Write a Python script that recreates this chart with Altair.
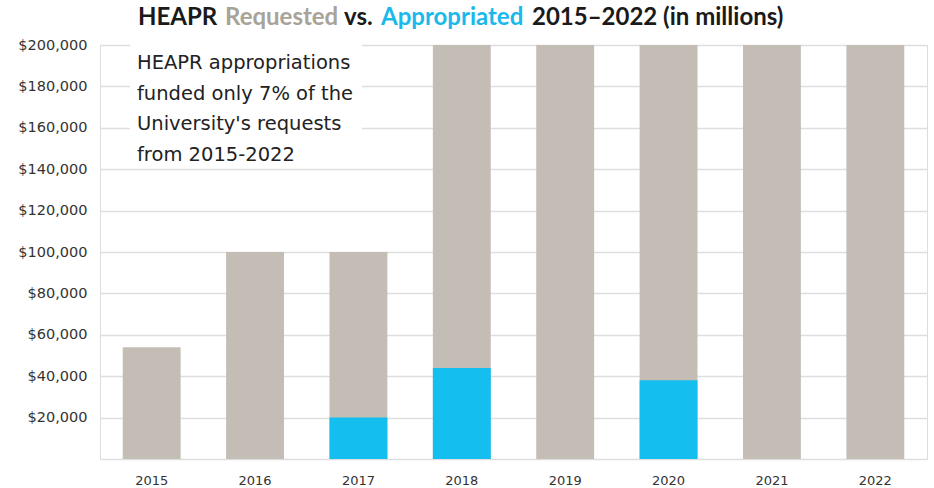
import altair as alt
import pandas as pd

years = ["2015", "2016", "2017", "2018", "2019", "2020", "2021", "2022"]
requested = [54000, 100000, 100000, 200000, 200000, 200000, 200000, 200000]
appropriated = [0, 0, 20000, 44000, 0, 38000, 0, 0]
y_ticks = [0, 20000, 40000, 60000, 80000, 100000, 120000, 140000, 160000, 180000, 200000]

title_parts = ["HEAPR", "Requested", "vs.", "Appropriated", "2015–2022 (in millions)"]
title_colors = ["#1a1a1a", "#a8a399", "#1a1a1a", "#19b9ec", "#1a1a1a"]
title_x = [38, 125, 244, 281, 432]

note_lines = ["HEAPR appropriations", "funded only 7% of the",
              "University's requests", "from 2015-2022"]

df = pd.DataFrame({"year": years, "requested": requested, "appropriated": appropriated})
FONT = "DejaVu Sans"

x_enc = alt.X("year:N", sort=years, title=None,
              scale=alt.Scale(paddingInner=0.44, paddingOuter=0.22),
              axis=alt.Axis(labelAngle=0, ticks=False, domain=False, labelPadding=15,
                            labelFontSize=13, labelColor="#333333", labelFont=FONT, grid=False))
y_scale = alt.Scale(domain=[0, 200000], nice=False)

req = alt.Chart(df).mark_bar(color="#c3bdb5").encode(
    x=x_enc,
    y=alt.Y("requested:Q", scale=y_scale, title=None,
            axis=alt.Axis(values=y_ticks, format="$,.0f", ticks=False, domain=False,
                          labelPadding=13, labelFontSize=14.5, labelColor="#333333",
                          labelFont=FONT, gridColor="#dedede", gridWidth=1.5,
                          labelExpr="datum.value == 0 ? '' : datum.label")),
)
app = alt.Chart(df).transform_filter("datum.appropriated > 0").mark_bar(color="#14bfef").encode(
    x=alt.X("year:N", sort=years),
    y=alt.Y("appropriated:Q", scale=y_scale),
)

box = alt.Chart(pd.DataFrame({"k": [0]})).mark_rect(color="white").encode(
    x=alt.value(30), x2=alt.value(262), y=alt.value(-6), y2=alt.value(118))

note = alt.Chart(pd.DataFrame({"t": [note_lines]})).mark_text(
    align="left", baseline="alphabetic", font=FONT, fontSize=19.5, lineHeight=30.5,
    color="#222222").encode(text="t", x=alt.value(37), y=alt.value(24))

titles = []
for t, c, px in zip(title_parts, title_colors, title_x):
    titles.append(
        alt.Chart(pd.DataFrame({"t": [t]})).mark_text(
            align="left", baseline="alphabetic", font="Lato", fontSize=24,
            fontWeight="bold", color=c).encode(text="t", x=alt.value(px), y=alt.value(-20))
    )

chart = alt.layer(req, app, box, note, *titles).properties(
    width=827, height=414,
    autosize=alt.AutoSizeParams(type="none"),
    padding={"left": 100, "top": 45, "right": 7, "bottom": 29},
).configure_view(stroke=None).configure(background="white")

chart.save("out.html", embed_options={"renderer": "svg", "actions": False})
